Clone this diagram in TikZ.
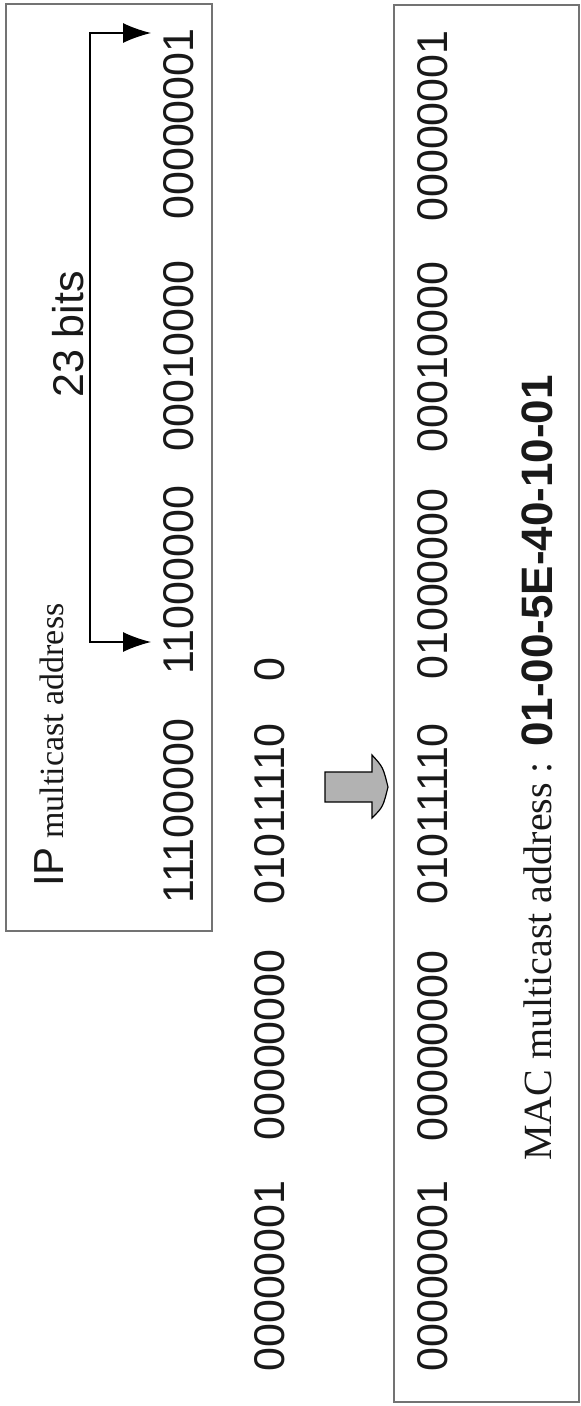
\documentclass[tikz,border=0pt]{standalone}
\usepackage{fontspec}
\setmainfont{Liberation Serif}
\setsansfont{Liberation Sans}
\usetikzlibrary{arrows.meta}
\begin{document}
\begin{tikzpicture}[x=1pt,y=-1pt,
  bits/.style={rotate=90, inner sep=0pt, anchor=center, text=black!90,
               font=\fontsize{43}{43}\selectfont\sffamily},
  frame/.style={draw=black!55, line width=2pt, inner sep=0pt},
  lbl/.style={rotate=90, inner sep=0pt, anchor=base west, text=black!90},
  bitarrow/.style={line width=1.4pt, {Latex[length=28pt,width=20pt]}-{Latex[length=28pt,width=20pt]}},
  blockarrow/.style={draw=black, line width=1.2pt, fill=black!30}]
\useasboundingbox (0,0) rectangle (581,1406);
% frames
\node[frame, minimum width=206pt, minimum height=927pt] (ipbox) at (109,467.5) {};
\node[frame, minimum width=185pt, minimum height=1397pt] (macbox) at (486.5,703.5) {};
% IP label
\node[lbl] (iplabel) at (63,887) {{\fontsize{42}{42}\selectfont\sffamily IP}{\fontsize{34}{34}\selectfont\ multicast address}};
% IP row
\node[bits] (ip3) at (179,811) {11100000};
\node[bits] (ip4) at (179,580) {11000000};
\node[bits] (ip5) at (179,356) {00010000};
\node[bits] (ip6) at (179,124) {00000001};
% 23 bits
\node[lbl, font=\fontsize{43}{43}\selectfont\sffamily] (bits23) at (83,398) {23 bits};
\coordinate (ctop) at (90,33);
\coordinate (cbot) at (90,642);
\coordinate (ttop) at (151,33);
\coordinate (tbot) at (151,642);
\draw[bitarrow] (tbot) -- (cbot) -- (ctop) -- (ttop);
% middle row
\node[bits] (m1) at (270,1276) {00000001};
\node[bits] (m2) at (270,1045) {00000000};
\node[bits] (m3) at (270,814) {01011110};
\node[bits] (m4) at (270,670) {0};
% block arrow
\draw[blockarrow] (325,772) -- (372,772) -- (372,755) .. controls (383,767) .. (388,787)
  .. controls (383,807) .. (372,818) -- (372,802) -- (325,802) -- cycle;
% MAC row
\node[bits] (b1) at (433,1276) {00000001};
\node[bits] (b2) at (433,1046) {00000000};
\node[bits] (b3) at (433,814) {01011110};
\node[bits] (b4) at (433,584) {01000000};
\node[bits] (b5) at (433,357) {00010000};
\node[bits] (b6) at (433,126) {00000001};
% MAC label
\node[lbl, font=\fontsize{40}{40}\selectfont] (maclabel) at (551,1161) {MAC multicast address :};
\node[lbl, font=\fontsize{44}{44}\selectfont\sffamily\bfseries] (macval) at (552,747) {01-00-5E-40-10-01};
\end{tikzpicture}
\end{document}
